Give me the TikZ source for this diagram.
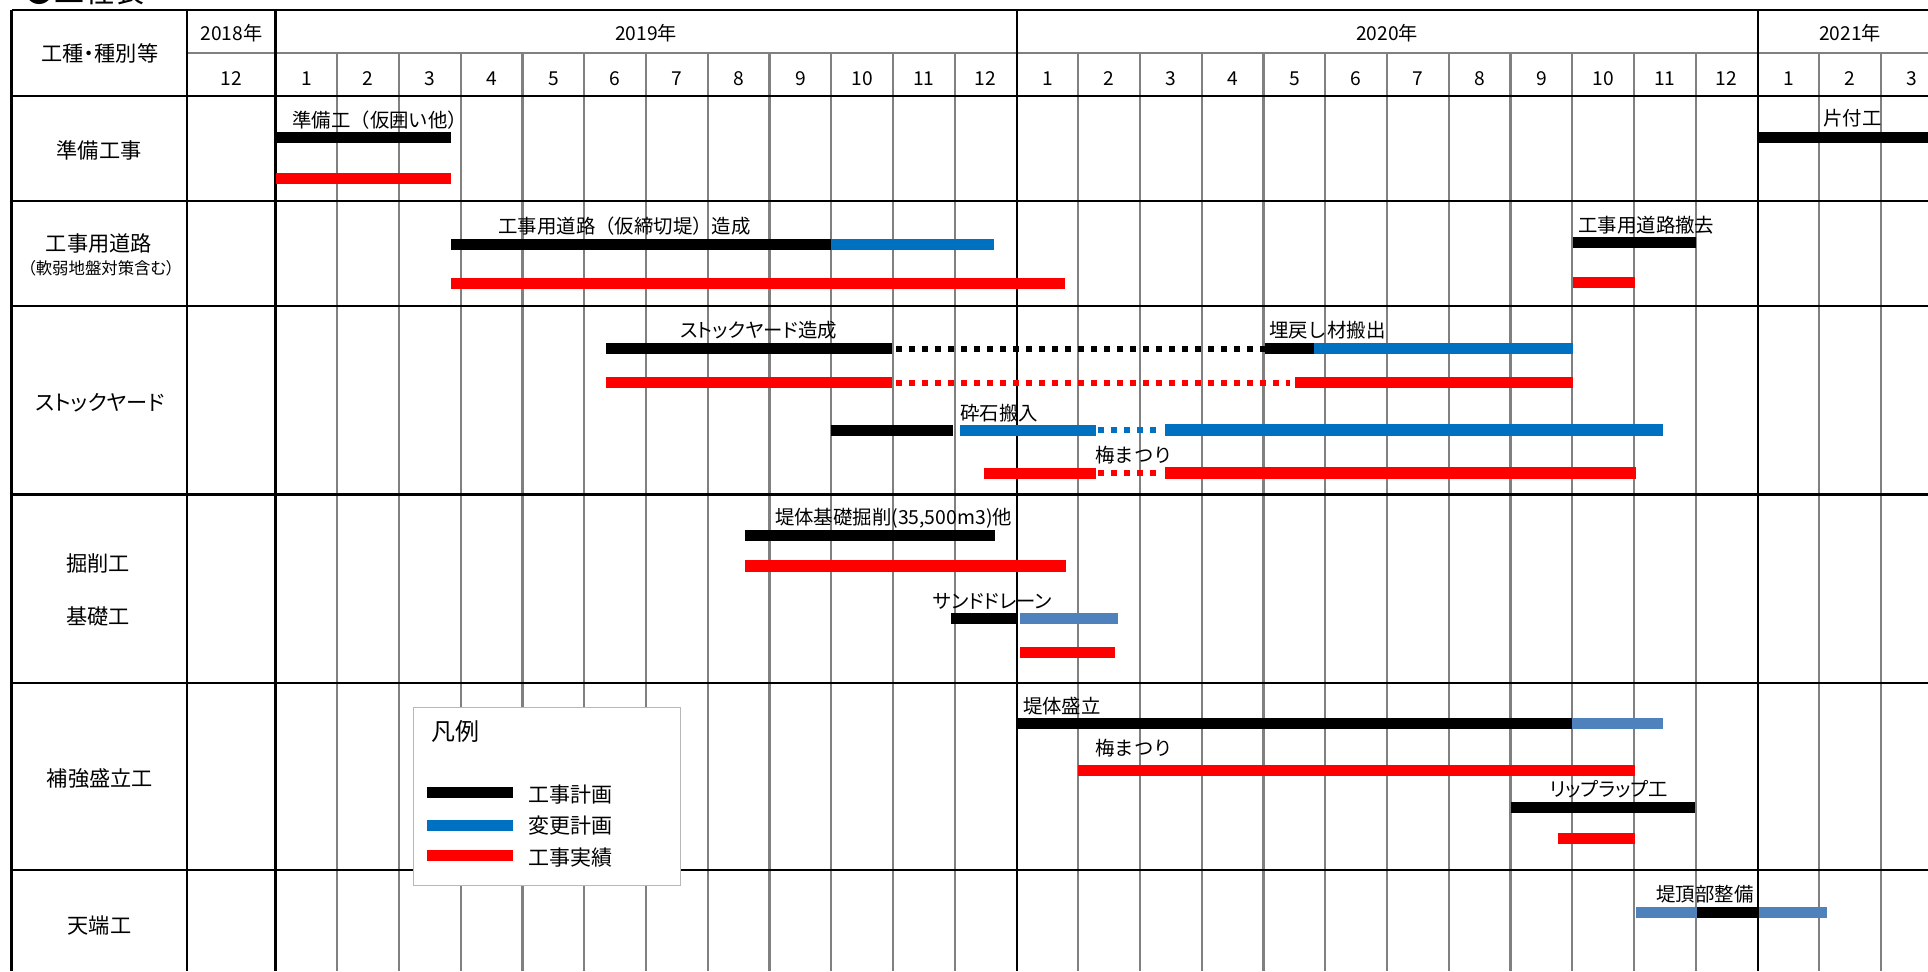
\documentclass[tikz,border=0pt]{standalone}
\usepackage{fontspec}
\setmainfont{Noto Sans CJK JP}
\newfontfamily\pfont{Noto Sans CJK JP}[RawFeature=+palt]
\usepackage{tikz}
\definecolor{chgblue}{HTML}{0070C0}
\definecolor{chgsteel}{HTML}{4F81BD}
\definecolor{actred}{HTML}{FF0000}

\begin{document}
\begin{tikzpicture}[x=0.5pt,y=0.5pt,yscale=-1,xscale=1,
    frame/.style={line width=1.2pt},
    yearline/.style={line width=1pt},
    monthline/.style={line width=1.1pt,draw=black!50},
    bar/.style={line width=5.6pt},
    dotbar/.style={line width=3pt,dash pattern=on 3pt off 3.5pt},
    cat/.style={inner sep=0pt,font=\fontsize{10.6}{12}\selectfont},
    pcat/.style={inner sep=0pt,font=\pfont\fontsize{10.6}{12}\selectfont},
    head/.style={inner sep=0pt,font=\fontsize{9.6}{11}\selectfont},
    lbl/.style={anchor=west,inner sep=0pt,font=\fontsize{9.7}{11}\selectfont},
    plbl/.style={anchor=west,inner sep=0pt,font=\pfont\fontsize{9.7}{11}\selectfont}]
    \useasboundingbox (0,0) rectangle (1928,971);

    % Text Node
    \draw (24,2.5) node [anchor=base west,inner sep=0pt,font=\fontsize{15}{17}\selectfont] (ttl) {●工程表};

    %Straight Lines [month grid]
    \draw [monthline] (187,52.7) -- (1928,52.7);
    \draw [monthline] (337.3,52.7) -- (337.3,971) (399,52.7) -- (399,971) (460.8,52.7) -- (460.8,971) (522.5,52.7) -- (522.5,971)
        (584.3,52.7) -- (584.3,971) (646,52.7) -- (646,971) (707.8,52.7) -- (707.8,971) (769.5,52.7) -- (769.5,971)
        (831.3,52.7) -- (831.3,971) (893,52.7) -- (893,971) (954.8,52.7) -- (954.8,971);
    \draw [monthline] (1078.3,52.7) -- (1078.3,971) (1140,52.7) -- (1140,971) (1201.8,52.7) -- (1201.8,971) (1263.5,52.7) -- (1263.5,971)
        (1325.3,52.7) -- (1325.3,971) (1387,52.7) -- (1387,971) (1448.8,52.7) -- (1448.8,971) (1510.5,52.7) -- (1510.5,971)
        (1572.3,52.7) -- (1572.3,971) (1634,52.7) -- (1634,971) (1695.8,52.7) -- (1695.8,971);
    \draw [monthline] (1819.3,52.7) -- (1819.3,971) (1881,52.7) -- (1881,971);

    %Straight Lines [frame]
    \draw [frame] (11.5,10) -- (1928,10);
    \draw [frame] (11.5,96) -- (1928,96);
    \draw [frame] (11.5,201) -- (1928,201);
    \draw [frame] (11.5,305.7) -- (1928,305.7);
    \draw [frame] (11.5,494.3) -- (1928,494.3);
    \draw [frame] (11.5,682.7) -- (1928,682.7);
    \draw [frame] (11.5,870) -- (1928,870);
    \draw [frame] (11.5,10) -- (11.5,971);
    \draw [frame] (187,10) -- (187,971);
    \draw [frame] (275.5,10) -- (275.5,971);
    \draw [yearline] (1016.5,10) -- (1016.5,971);
    \draw [yearline] (1757.5,10) -- (1757.5,971);

    % Text Node [header]
    \draw (100,53.3) node [pcat] (hdr) {工種・種別等};
    \draw (231.3,33.3) node [head] (y2018) {2018年};
    \draw (646,33.3) node [head] (y2019) {2019年};
    \draw (1387,33.3) node [head] (y2020) {2020年};
    \draw (1850.1,33.3) node [head] (y2021) {2021年};
    \draw (231.3,78.3) node [head] (m1812) {12};
    \draw (306.4,78.3) node [head] (m1901) {1};
    \draw (368.1,78.3) node [head] (m1902) {2};
    \draw (429.9,78.3) node [head] (m1903) {3};
    \draw (491.6,78.3) node [head] (m1904) {4};
    \draw (553.4,78.3) node [head] (m1905) {5};
    \draw (615.1,78.3) node [head] (m1906) {6};
    \draw (676.9,78.3) node [head] (m1907) {7};
    \draw (738.6,78.3) node [head] (m1908) {8};
    \draw (800.4,78.3) node [head] (m1909) {9};
    \draw (862.1,78.3) node [head] (m1910) {10};
    \draw (923.9,78.3) node [head] (m1911) {11};
    \draw (985.6,78.3) node [head] (m1912) {12};
    \draw (1047.4,78.3) node [head] (m2001) {1};
    \draw (1109.1,78.3) node [head] (m2002) {2};
    \draw (1170.9,78.3) node [head] (m2003) {3};
    \draw (1232.6,78.3) node [head] (m2004) {4};
    \draw (1294.4,78.3) node [head] (m2005) {5};
    \draw (1356.1,78.3) node [head] (m2006) {6};
    \draw (1417.9,78.3) node [head] (m2007) {7};
    \draw (1479.6,78.3) node [head] (m2008) {8};
    \draw (1541.4,78.3) node [head] (m2009) {9};
    \draw (1603.1,78.3) node [head] (m2010) {10};
    \draw (1664.9,78.3) node [head] (m2011) {11};
    \draw (1726.6,78.3) node [head] (m2012) {12};
    \draw (1788.4,78.3) node [head] (m2101) {1};
    \draw (1850.1,78.3) node [head] (m2102) {2};
    \draw (1911.9,78.3) node [head] (m2103) {3};

    % Text Node [work items]
    \draw (99,150) node [cat] (cJunbi) {準備工事};
    \draw (99,243.3) node [cat] (cRoad) {工事用道路};
    \draw (101,268.3) node [inner sep=0pt,font=\pfont\fontsize{8.2}{10}\selectfont] (cRoadSub) {（軟弱地盤対策含む）};
    \draw (100,402.7) node [pcat] (cYard) {ストックヤード};
    \draw (98,563.3) node [cat] (cKussaku) {掘削工};
    \draw (98,616.7) node [cat] (cKiso) {基礎工};
    \draw (100,778.3) node [cat] (cMoritate) {補強盛立工};
    \draw (99.4,925) node [cat] (cTenba) {天端工};

    %Straight Lines [bars: 準備工事]
    \draw [bar] (275.5,137.7) -- (451.4,137.7);
    \draw [bar,actred] (275.5,178.8) -- (451.4,178.8);
    \draw [bar] (1757.5,137.7) -- (1928,137.7);
    %Straight Lines [bars: 工事用道路]
    \draw [bar] (451.4,244.3) -- (831,244.3);
    \draw [bar,chgblue] (831,244.3) -- (993.5,244.3);
    \draw [bar,actred] (451.4,283.2) -- (1064.5,283.2);
    \draw [bar] (1573,242.8) -- (1696,242.8);
    \draw [bar,actred] (1573,282.7) -- (1634.5,282.7);
    %Straight Lines [bars: ストックヤード]
    \draw [bar] (606,348.3) -- (892,348.3);
    \draw [dotbar] (896,348.6) -- (1264.5,348.6);
    \draw [bar] (1264.5,348.3) -- (1314,348.3);
    \draw [bar,chgblue] (1314,348.3) -- (1573,348.3);
    \draw [bar,actred] (606,382.8) -- (892,382.8);
    \draw [dotbar,actred] (896,382.8) -- (1290,382.8);
    \draw [bar,actred] (1295,382.8) -- (1573,382.8);
    \draw [bar] (831,430.5) -- (952.6,430.5);
    \draw [bar,chgblue] (960,430.3) -- (1096,430.3);
    \draw [dotbar,chgblue] (1098,430.3) -- (1162,430.3);
    \draw [bar,chgblue] (1164.5,430) -- (1663,430);
    \draw [bar,actred] (983.7,473.2) -- (1096,473.2);
    \draw [dotbar,actred] (1098,473.2) -- (1162,473.2);
    \draw [bar,actred] (1165,473) -- (1636,473);
    %Straight Lines [bars: 掘削工・基礎工]
    \draw [bar] (744.5,535.3) -- (995,535.3);
    \draw [bar,actred] (744.5,566) -- (1066,566);
    \draw [bar] (951.4,618.8) -- (1017.6,618.8);
    \draw [bar,chgsteel] (1019.6,618.8) -- (1117.6,618.8);
    \draw [bar,actred] (1020,652.2) -- (1115,652.2);
    %Straight Lines [bars: 補強盛立工]
    \draw [bar] (1016.7,723.8) -- (1572,723.8);
    \draw [bar,chgsteel] (1572,723.8) -- (1662.6,723.8);
    \draw [bar,actred] (1078.3,770.8) -- (1634.5,770.8);
    \draw [bar] (1511,807.2) -- (1695.4,807.2);
    \draw [bar,actred] (1558.4,838.8) -- (1634.5,838.8);
    %Straight Lines [bars: 天端工]
    \draw [bar,chgsteel] (1636.4,912.2) -- (1696.7,912.2);
    \draw [bar] (1696.7,912.2) -- (1759,912.2);
    \draw [bar,chgsteel] (1759,912.2) -- (1826.6,912.2);

    % Text Node [bar labels]
    \draw (292,120) node [lbl] (tJunbi) {準備工（仮囲い他）};
    \draw (1823,118) node [lbl] (tKataduke) {片付工};
    \draw (498,226) node [lbl] (tRoad) {工事用道路（仮締切堤）造成};
    \draw (1578,225) node [lbl] (tRoadOff) {工事用道路撤去};
    \draw (680,330) node [plbl] (tYard) {ストックヤード造成};
    \draw (1268.6,330) node [lbl] (tBackfill) {埋戻し材搬出};
    \draw (960,413) node [lbl] (tStone) {砕石搬入};
    \draw (1095,455) node [lbl] (tRain1) {梅まつり};
    \draw (774.7,518.3) node [lbl] (tDig) {堤体基礎掘削(35,500m3)他};
    \draw (932.6,601.7) node [plbl] (tSand) {サンドドレーン};
    \draw (1022.6,706) node [lbl] (tFill) {堤体盛立};
    \draw (1094.8,748.3) node [lbl] (tRain2) {梅まつり};
    \draw (1549,789.3) node [plbl] (tRip) {リップラップ工};
    \draw (1656,894.3) node [lbl] (tCrest) {堤頂部整備};

    %Shape: Rectangle [legend]
    \draw [draw=black!28,fill=white,line width=0.6pt] (413.4,707.3) rectangle (680.8,885.7);
    \draw (431,731.7) node [anchor=west,inner sep=0pt,font=\fontsize{12}{14}\selectfont] (lgTitle) {凡例};
    \draw [bar] (426.8,792.5) -- (513.4,792.5);
    \draw [bar,chgblue] (426.8,825.8) -- (513.4,825.8);
    \draw [bar,actred] (426.8,855.2) -- (513.4,855.2);
    \draw (528,794.3) node [anchor=west,inner sep=0pt,font=\fontsize{10.5}{12}\selectfont] (lgPlan) {工事計画};
    \draw (528,826) node [anchor=west,inner sep=0pt,font=\fontsize{10.5}{12}\selectfont] (lgChange) {変更計画};
    \draw (528,857.7) node [anchor=west,inner sep=0pt,font=\fontsize{10.5}{12}\selectfont] (lgActual) {工事実績};
\end{tikzpicture}
\end{document}
